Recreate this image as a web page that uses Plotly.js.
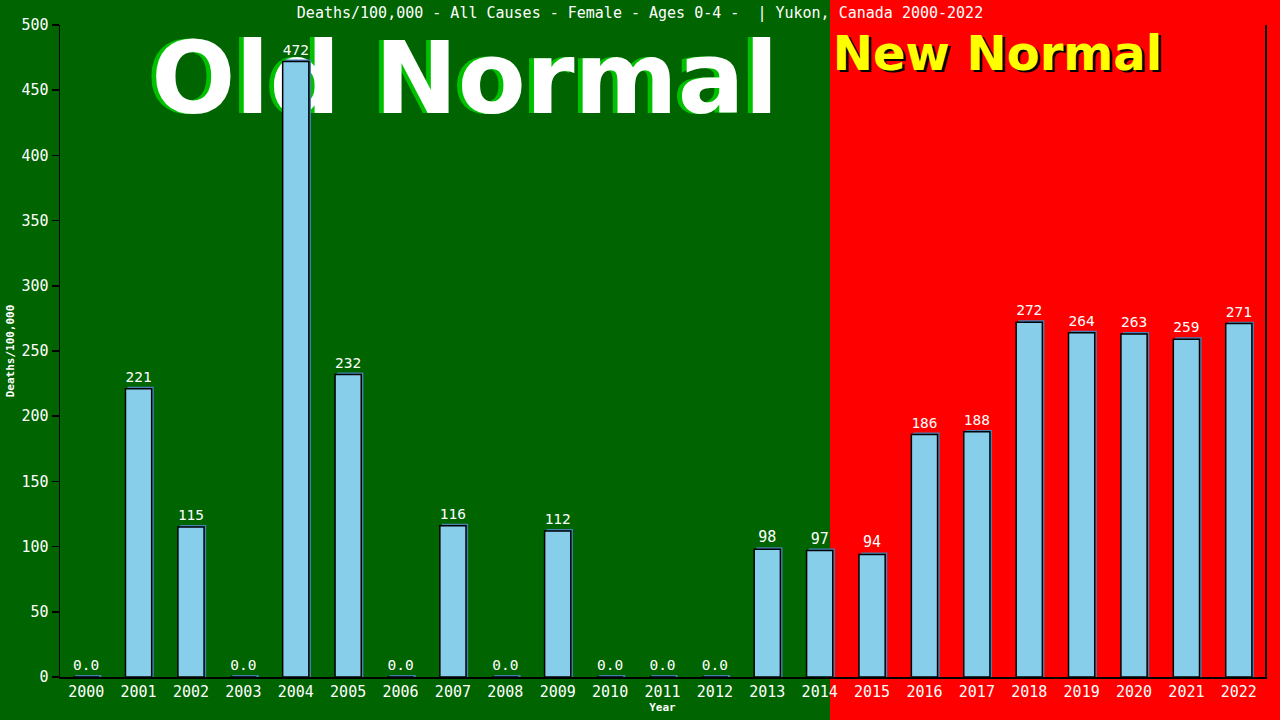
<!DOCTYPE html>
<html>
<head>
<meta charset="utf-8">
<script src="https://cdn.plot.ly/plotly-3.0.1.min.js"></script>
<style>
  html, body { margin: 0; padding: 0; background: #006400; }
  #plot { width: 1280px; height: 720px; }
</style>
</head>
<body>
<div id="plot"></div>
<script>
const years = ['2000', '2001', '2002', '2003', '2004', '2005', '2006', '2007', '2008', '2009', '2010', '2011',
  '2012', '2013', '2014', '2015', '2016', '2017', '2018', '2019', '2020', '2021', '2022'];
const deathRates = [0, 221, 115, 0, 472, 232, 0, 116, 0, 112, 0, 0,
  0, 98, 97, 94, 186, 188, 272, 264, 263, 259, 271];

const titleText = 'Deaths/100,000 - All Causes - Female - Ages 0-4 -  | Yukon, Canada 2000-2022';
const mono = 'DejaVu Sans Mono, monospace';
const heavy = 'DejaVu Sans, sans-serif';

// labels: zero years are printed as 0.0
const labels = deathRates.map((v) => (v === 0 ? '0.0' : String(v)));

const shadow = {
  type: 'bar',
  x: years,
  y: deathRates.map((v) => v + 1.5),
  width: 0.5,
  offset: -0.21,
  marker: { color: '#4682b4', line: { width: 0 } },
  hoverinfo: 'skip',
  showlegend: false
};

const bars = {
  type: 'bar',
  x: years,
  y: deathRates,
  width: 0.5,
  offset: -0.25,
  text: labels,
  textposition: 'outside',
  textfont: { family: mono, size: 15, color: '#ffffff' },
  cliponaxis: false,
  marker: { color: '#87ceeb', line: { color: '#000000', width: 1.5 } },
  showlegend: false
};

// big banner words sit under the bars, so they are shape labels on the lower layer
function banner(text, cx, cy, size, color) {
  return {
    type: 'rect', xref: 'paper', yref: 'paper', layer: 'below',
    x0: cx - 0.3, x1: cx + 0.3, y0: cy - 0.06, y1: cy + 0.06,
    line: { width: 0 }, fillcolor: 'rgba(0,0,0,0)',
    label: { text: text, textposition: 'middle center',
      font: { family: heavy, size: size, color: color, weight: 'bold' } }
  };
}

const layout = {
  width: 1280,
  height: 720,
  paper_bgcolor: '#006400',
  plot_bgcolor: 'rgba(0,0,0,0)',
  barmode: 'overlay',
  margin: { l: 60, r: 15, t: 25, b: 43 },
  title: {
    text: titleText,
    font: { family: mono, size: 15, color: '#ffffff' },
    x: 0.5, xref: 'container', xanchor: 'center',
    y: 0.982, yref: 'container', yanchor: 'middle'
  },
  xaxis: {
    type: 'category',
    range: [-0.5, 22.5],
    showline: true, linecolor: '#000000', linewidth: 1.5,
    ticks: '', showgrid: false, zeroline: false,
    tickfont: { family: mono, size: 15, color: '#ffffff' },
    title: { text: 'Year', font: { family: mono, size: 11, color: '#ffffff', weight: 'bold' }, standoff: 4 }
  },
  yaxis: {
    range: [0, 500],
    tickvals: [0, 50, 100, 150, 200, 250, 300, 350, 400, 450, 500],
    showline: true, mirror: true, linecolor: '#000000', linewidth: 1.5,
    ticks: 'outside', ticklen: 7, tickcolor: '#000000', tickwidth: 1.5,
    showgrid: false, zeroline: false,
    tickfont: { family: mono, size: 15, color: '#ffffff' },
    title: { text: 'Deaths/100,000', font: { family: mono, size: 11, color: '#ffffff', weight: 'bold' }, standoff: 4 }
  },
  shapes: [
    {
      type: 'rect', xref: 'paper', yref: 'paper', layer: 'below',
      x0: 0.639, x1: 1.02, y0: -0.08, y1: 1.05,
      fillcolor: '#ff0000', line: { width: 0 }
    },
    banner('Old Normal', 0.332, 0.929, 99, '#00c000'),
    banner('Old Normal', 0.336, 0.928, 99, '#ffffff'),
    banner('New Normal', 0.780, 0.958, 48, '#000000'),
    banner('New Normal', 0.778, 0.962, 48, '#ffff00')
  ]
};

Plotly.newPlot('plot', [shadow, bars], layout, { displayModeBar: false, staticPlot: true });
</script>
</body>
</html>
